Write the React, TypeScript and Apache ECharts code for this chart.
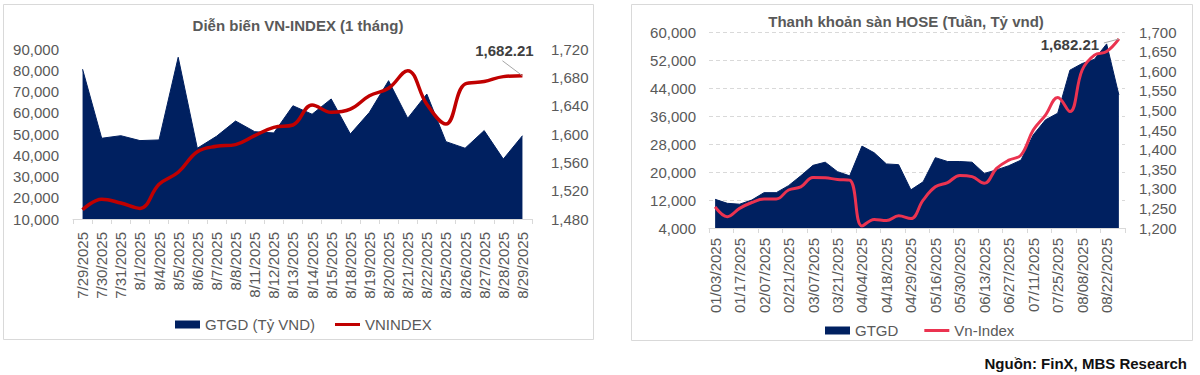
import React, { useEffect, useRef } from 'react';
import * as echarts from 'echarts';

// ---- Left chart: Diễn biến VN-INDEX (1 tháng)
const leftDates = [
  '7/29/2025', '7/30/2025', '7/31/2025', '8/1/2025', '8/4/2025', '8/5/2025', '8/6/2025', '8/7/2025',
  '8/8/2025', '8/11/2025', '8/12/2025', '8/13/2025', '8/14/2025', '8/15/2025', '8/18/2025', '8/19/2025',
  '8/20/2025', '8/21/2025', '8/22/2025', '8/25/2025', '8/26/2025', '8/27/2025', '8/28/2025', '8/29/2025',
];
const leftGtgd = [
  80500, 48000, 49200, 46900, 47200, 86100, 43300, 48900,
  56100, 51100, 50500, 63300, 59300, 66500, 50000, 60200,
  75100, 57400, 68800, 46400, 43300, 51600, 38200, 49200,
];
const leftVnindex = [
  1493, 1508, 1502.6, 1495, 1529, 1546, 1575, 1582.6,
  1585, 1597.6, 1609.4, 1612.7, 1641, 1630.6, 1635, 1654,
  1664.5, 1689.4, 1642, 1614, 1670.6, 1674, 1681, 1682.21,
];
const leftYTicks = { min: 10000, max: 90000, interval: 10000 };
const leftY2Ticks = { min: 1480, max: 1720, interval: 40 };

// ---- Right chart: Thanh khoản sàn HOSE (Tuần, Tỷ vnd)
const rightDates = [
  '01/03/2025', '01/10/2025', '01/17/2025', '01/24/2025', '02/07/2025', '02/14/2025', '02/21/2025', '02/28/2025',
  '03/07/2025', '03/14/2025', '03/21/2025', '03/28/2025', '04/04/2025', '04/11/2025', '04/18/2025', '04/25/2025',
  '04/29/2025', '05/09/2025', '05/16/2025', '05/23/2025', '05/30/2025', '06/06/2025', '06/13/2025', '06/20/2025',
  '06/27/2025', '07/04/2025', '07/11/2025', '07/18/2025', '07/25/2025', '08/01/2025', '08/08/2025', '08/15/2025',
  '08/22/2025', '08/29/2025',
];
const rightGtgd = [
  12200, 11050, 10800, 12000, 14100, 14100, 16100, 18900,
  21900, 22800, 20100, 18900, 27400, 25500, 22300, 22100,
  14900, 17200, 24100, 23000, 23000, 22800, 19600, 20600,
  21800, 23400, 30600, 34900, 36800, 49100, 51000, 52200,
  56600, 42000,
];
const rightVnindex = [
  1254, 1229, 1250, 1265, 1274, 1274, 1297, 1305,
  1329, 1328, 1324, 1322, 1205, 1222, 1219, 1231,
  1224, 1271, 1305, 1316, 1334, 1331, 1314, 1352,
  1373, 1386, 1450, 1488, 1533, 1497, 1603, 1641,
  1650, 1682.21,
];
const rightYTicks = { min: 4000, max: 60000, interval: 8000 };
const rightY2Ticks = { min: 1200, max: 1700, interval: 50 };

const FONT = "'Liberation Sans', Arial, sans-serif";
const GREY = '#595959';
const NAVY = '#002060';
const RED_L = '#C00000';
const RED_R = '#EB3350';

const fmt = (v: number) => v.toLocaleString('en-US');
const fmt2 = (v: number) =>
  v.toLocaleString('en-US', { minimumFractionDigits: 2, maximumFractionDigits: 2 });

export default function App() {
  const ref = useRef<HTMLDivElement>(null);

  useEffect(() => {
    const chart = echarts.init(ref.current!, null, { renderer: 'svg' });
    const axisLabel = { color: GREY, fontSize: 15, fontFamily: FONT };
    const axisLine = { show: true, lineStyle: { color: '#d9d9d9', width: 1 } };

    chart.setOption({
      animation: false,
      textStyle: { fontFamily: FONT },
      grid: [
        { left: 73, top: 49, width: 459, height: 170 },
        { left: 709, top: 32, width: 416, height: 196 },
      ],
      xAxis: [
        {
          type: 'category', gridIndex: 0, data: leftDates, boundaryGap: true,
          axisLine, axisTick: { show: true, interval: 0, length: 5, lineStyle: { color: '#d9d9d9' } },
          axisLabel: { ...axisLabel, rotate: 90, interval: 0, margin: 13 },
        },
        {
          type: 'category', gridIndex: 1, data: rightDates, boundaryGap: true,
          axisLine, axisTick: { show: true, interval: 1, length: 5, lineStyle: { color: '#d9d9d9' } },
          axisLabel: { ...axisLabel, rotate: 90, interval: 1, margin: 10 },
        },
      ],
      yAxis: [
        {
          type: 'value', gridIndex: 0, ...leftYTicks, position: 'left',
          axisLine: { show: false }, axisTick: { show: false }, splitLine: { show: false },
          axisLabel: { ...axisLabel, margin: 14, formatter: fmt },
        },
        {
          type: 'value', gridIndex: 0, ...leftY2Ticks, position: 'right',
          axisLine: { show: false }, axisTick: { show: false }, splitLine: { show: false },
          axisLabel: { ...axisLabel, margin: 19, formatter: fmt },
        },
        {
          type: 'value', gridIndex: 1, ...rightYTicks, position: 'left',
          axisLine: { show: false }, axisTick: { show: false },
          splitLine: { show: true, lineStyle: { color: '#d9d9d9', type: [4, 3], width: 1 } },
          axisLabel: { ...axisLabel, margin: 13, formatter: fmt },
        },
        {
          type: 'value', gridIndex: 1, ...rightY2Ticks, position: 'right',
          axisLine: { show: false }, axisTick: { show: false }, splitLine: { show: false },
          axisLabel: { ...axisLabel, margin: 14, formatter: fmt },
        },
      ],
      legend: [
        {
          left: 170, top: 312, itemWidth: 25, itemHeight: 8, itemGap: 20,
          textStyle: { color: GREY, fontSize: 15, fontFamily: FONT },
          data: [
            { name: 'GTGD (Tỷ VND)', icon: 'rect' },
            { name: 'VNINDEX', icon: 'path://M0,0H25V3H0Z' },
          ],
        },
        {
          left: 820, top: 318, itemWidth: 25, itemHeight: 8, itemGap: 26,
          textStyle: { color: GREY, fontSize: 15, fontFamily: FONT },
          data: [
            { name: 'GTGD', icon: 'rect' },
            { name: 'Vn-Index', icon: 'path://M0,0H25V3H0Z' },
          ],
        },
      ],
      series: [
        {
          name: 'GTGD (Tỷ VND)', type: 'line', xAxisIndex: 0, yAxisIndex: 0, data: leftGtgd,
          symbol: 'none', showSymbol: false, itemStyle: { color: NAVY },
          lineStyle: { width: 1, color: NAVY }, areaStyle: { color: NAVY, opacity: 1, origin: 'start' },
          z: 1,
        },
        {
          name: 'VNINDEX', type: 'line', xAxisIndex: 0, yAxisIndex: 1, data: leftVnindex,
          symbol: 'none', showSymbol: false, smooth: 0.4, itemStyle: { color: RED_L },
          lineStyle: { width: 3.5, color: RED_L }, z: 3,
        },
        {
          name: 'GTGD', type: 'line', xAxisIndex: 1, yAxisIndex: 2, data: rightGtgd,
          symbol: 'none', showSymbol: false, itemStyle: { color: NAVY },
          lineStyle: { width: 1, color: NAVY }, areaStyle: { color: NAVY, opacity: 1, origin: 'start' },
          z: 1,
        },
        {
          name: 'Vn-Index', type: 'line', xAxisIndex: 1, yAxisIndex: 3, data: rightVnindex,
          symbol: 'none', showSymbol: false, smooth: 0.4, itemStyle: { color: RED_R },
          lineStyle: { width: 3, color: RED_R }, z: 3,
        },
      ],
    });

    const lastL = leftVnindex.length - 1;
    const lastR = rightVnindex.length - 1;
    const pL = chart.convertToPixel({ seriesIndex: 1 }, [lastL, leftVnindex[lastL]]) as number[];
    const pR = chart.convertToPixel({ seriesIndex: 3 }, [lastR, rightVnindex[lastR]]) as number[];

    const titleStyle = (text: string) => ({
      text, fill: GREY, font: `bold 15px ${FONT}`, align: 'center', verticalAlign: 'middle',
    });

    chart.setOption({
      graphic: [
        { type: 'rect', shape: { x: 3.5, y: 4.5, width: 590, height: 335 }, style: { fill: 'none', stroke: '#d9d9d9', lineWidth: 1 }, silent: true, z: -10 },
        { type: 'rect', shape: { x: 631.5, y: 4.5, width: 561, height: 336 }, style: { fill: 'none', stroke: '#d9d9d9', lineWidth: 1 }, silent: true, z: -10 },
        { type: 'text', x: 298, y: 25, style: titleStyle('Diễn biến VN-INDEX (1 tháng)') },
        { type: 'text', x: 906, y: 21, style: titleStyle('Thanh khoản sàn HOSE (Tuần, Tỷ vnd)') },
        {
          type: 'text', x: 1187, y: 363,
          style: { text: 'Nguồn: FinX, MBS Research', fill: '#111', font: `bold 15px ${FONT}`, align: 'right', verticalAlign: 'middle' },
        },
        // annotations anchored on the last VN-Index point
        { type: 'line', shape: { x1: pL[0] - 20, y1: pL[1] - 15, x2: pL[0], y2: pL[1] }, style: { stroke: '#a6a6a6', lineWidth: 1 }, z: 10 },
        {
          type: 'text', x: pL[0] - 18, y: pL[1] - 25, z: 10,
          style: { text: fmt2(leftVnindex[lastL]), fill: '#404040', font: `bold 15px ${FONT}`, align: 'center', verticalAlign: 'middle' },
        },
        { type: 'line', shape: { x1: pR[0] - 15, y1: pR[1] + 4, x2: pR[0], y2: pR[1] }, style: { stroke: '#a6a6a6', lineWidth: 1 }, z: 10 },
        {
          type: 'text', x: pR[0] - 49, y: pR[1] + 6, z: 10,
          style: { text: fmt2(rightVnindex[lastR]), fill: '#404040', font: `bold 15px ${FONT}`, align: 'center', verticalAlign: 'middle' },
        },
      ],
    });

    return () => chart.dispose();
  }, []);

  return (
    <div
      ref={ref}
      style={{ position: 'fixed', left: 0, top: 0, width: 1200, height: 375, background: '#fff' }}
    />
  );
}
